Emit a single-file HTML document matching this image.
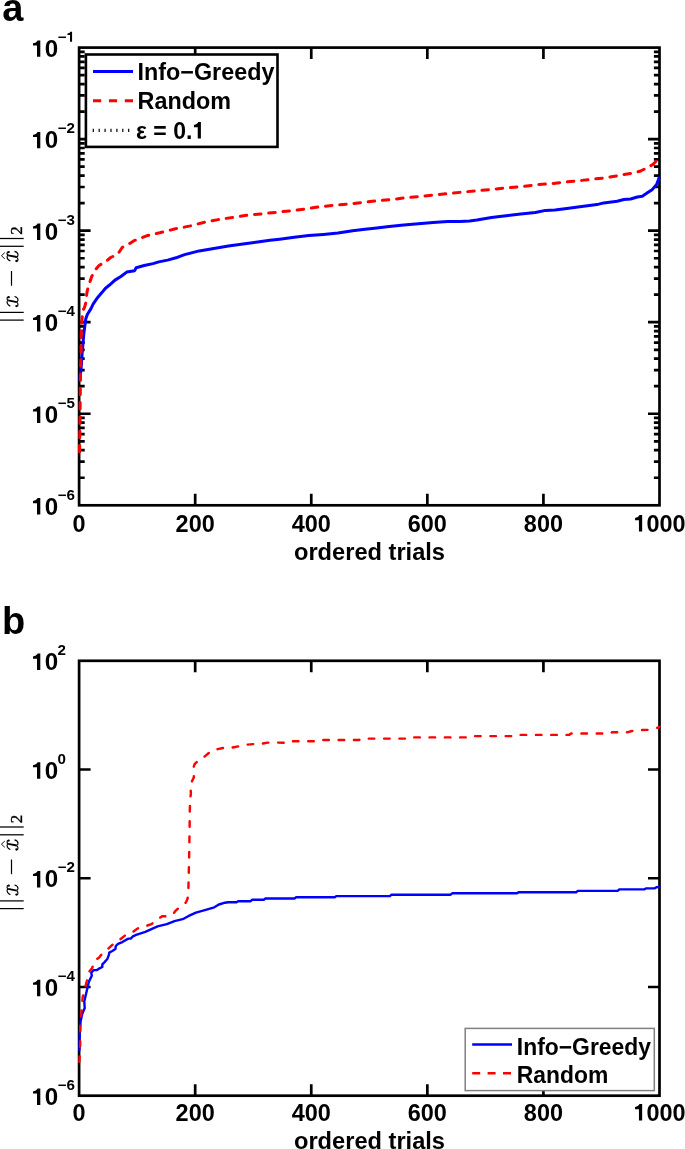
<!DOCTYPE html><html><head><meta charset="utf-8"><style>html,body{margin:0;padding:0;background:#fff;width:685px;height:1149px;overflow:hidden}svg{display:block;will-change:transform}.t{font-family:"Liberation Sans", sans-serif;font-weight:bold;font-size:23px}.s{font-family:"Liberation Sans", sans-serif;font-weight:bold;font-size:14px}.L{font-family:"Liberation Sans", sans-serif;font-weight:bold;font-size:38px}.m{font-family:"Liberation Serif",serif;font-size:24px;fill:#222}</style></head><body>
<svg width="685" height="1149" viewBox="0 0 685 1149">
<rect width="685" height="1149" fill="#fff"/>
<text x="2.3" y="20.6" class="L">a</text>
<text x="2.0" y="633.6" class="L">b</text>
<g transform="matrix(0,-1,1,0,18,321.0)" stroke="#000" fill="#000">
<path d="M0.9 -18.5V5.7" stroke-width="1.25"/>
<path d="M8.6 -18.5V5.7" stroke-width="1.25"/>
<path d="M74.7 -18.5V5.7" stroke-width="1.25"/>
<path d="M82.5 -18.5V5.7" stroke-width="1.25"/>
<g transform="translate(13.6,0) scale(1,-1)"><path d="M1.2 7.6C2.2 9.8 4 11 5.6 10.9C6.6 10.8 7.1 10.3 7.1 9.6M10.6 9.6C10.4 10.6 9.5 11 8.7 10.95C7.8 10.9 7.2 10.3 7.0 9.6M0.9 1.4C1.1 0.4 2 0 2.8 0.05C3.8 0.1 4.9 0.7 5.3 1.4M5.3 1.4C5.6 0.4 6.5 -0.05 7.6 0C9.3 0.1 10.5 2 10.9 3.5" stroke-width="1.15" fill="none"/><path d="M7.0 9.8L5.3 1.2" stroke-width="1.8" fill="none"/><circle cx="10.2" cy="9.3" r="1.15" stroke="none"/><circle cx="1.3" cy="1.6" r="1.15" stroke="none"/></g>
<path d="M35.3 -6.5H50" stroke-width="1.2"/>
<g transform="translate(58.7,0) scale(1,-1)"><path d="M1.2 7.6C2.2 9.8 4 11 5.6 10.9C6.6 10.8 7.1 10.3 7.1 9.6M10.6 9.6C10.4 10.6 9.5 11 8.7 10.95C7.8 10.9 7.2 10.3 7.0 9.6M0.9 1.4C1.1 0.4 2 0 2.8 0.05C3.8 0.1 4.9 0.7 5.3 1.4M5.3 1.4C5.6 0.4 6.5 -0.05 7.6 0C9.3 0.1 10.5 2 10.9 3.5" stroke-width="1.15" fill="none"/><path d="M7.0 9.8L5.3 1.2" stroke-width="1.8" fill="none"/><circle cx="10.2" cy="9.3" r="1.15" stroke="none"/><circle cx="1.3" cy="1.6" r="1.15" stroke="none"/><path d="M3.5 13.2L6.6 16.6L9.7 13.2" stroke-width="0.9" fill="none" stroke-linejoin="miter"/></g>
<text x="86.3" y="3.5" stroke="#000" stroke-width="0.35" style="font-family:'Liberation Serif',serif;font-size:17px">2</text>
</g>
<g transform="matrix(0,-1,1,0,18,909.5)" stroke="#000" fill="#000">
<path d="M0.9 -18.5V5.7" stroke-width="1.25"/>
<path d="M8.6 -18.5V5.7" stroke-width="1.25"/>
<path d="M74.7 -18.5V5.7" stroke-width="1.25"/>
<path d="M82.5 -18.5V5.7" stroke-width="1.25"/>
<g transform="translate(13.6,0) scale(1,-1)"><path d="M1.2 7.6C2.2 9.8 4 11 5.6 10.9C6.6 10.8 7.1 10.3 7.1 9.6M10.6 9.6C10.4 10.6 9.5 11 8.7 10.95C7.8 10.9 7.2 10.3 7.0 9.6M0.9 1.4C1.1 0.4 2 0 2.8 0.05C3.8 0.1 4.9 0.7 5.3 1.4M5.3 1.4C5.6 0.4 6.5 -0.05 7.6 0C9.3 0.1 10.5 2 10.9 3.5" stroke-width="1.15" fill="none"/><path d="M7.0 9.8L5.3 1.2" stroke-width="1.8" fill="none"/><circle cx="10.2" cy="9.3" r="1.15" stroke="none"/><circle cx="1.3" cy="1.6" r="1.15" stroke="none"/></g>
<path d="M35.3 -6.5H50" stroke-width="1.2"/>
<g transform="translate(58.7,0) scale(1,-1)"><path d="M1.2 7.6C2.2 9.8 4 11 5.6 10.9C6.6 10.8 7.1 10.3 7.1 9.6M10.6 9.6C10.4 10.6 9.5 11 8.7 10.95C7.8 10.9 7.2 10.3 7.0 9.6M0.9 1.4C1.1 0.4 2 0 2.8 0.05C3.8 0.1 4.9 0.7 5.3 1.4M5.3 1.4C5.6 0.4 6.5 -0.05 7.6 0C9.3 0.1 10.5 2 10.9 3.5" stroke-width="1.15" fill="none"/><path d="M7.0 9.8L5.3 1.2" stroke-width="1.8" fill="none"/><circle cx="10.2" cy="9.3" r="1.15" stroke="none"/><circle cx="1.3" cy="1.6" r="1.15" stroke="none"/><path d="M3.5 13.2L6.6 16.6L9.7 13.2" stroke-width="0.9" fill="none" stroke-linejoin="miter"/></g>
<text x="86.3" y="3.5" stroke="#000" stroke-width="0.35" style="font-family:'Liberation Serif',serif;font-size:17px">2</text>
</g>
<path d="M195.18 505.30V493.80M195.18 47.60V59.10M311.26 505.30V493.80M311.26 47.60V59.10M427.34 505.30V493.80M427.34 47.60V59.10M543.42 505.30V493.80M543.42 47.60V59.10M79.10 413.76H90.60M659.50 413.76H648.00M79.10 322.22H90.60M659.50 322.22H648.00M79.10 230.68H90.60M659.50 230.68H648.00M79.10 139.14H90.60M659.50 139.14H648.00M79.10 477.74H84.70M659.50 477.74H653.90M79.10 461.62H84.70M659.50 461.62H653.90M79.10 450.19H84.70M659.50 450.19H653.90M79.10 441.32H84.70M659.50 441.32H653.90M79.10 434.07H84.70M659.50 434.07H653.90M79.10 427.94H84.70M659.50 427.94H653.90M79.10 422.63H84.70M659.50 422.63H653.90M79.10 417.95H84.70M659.50 417.95H653.90M79.10 386.20H84.70M659.50 386.20H653.90M79.10 370.08H84.70M659.50 370.08H653.90M79.10 358.65H84.70M659.50 358.65H653.90M79.10 349.78H84.70M659.50 349.78H653.90M79.10 342.53H84.70M659.50 342.53H653.90M79.10 336.40H84.70M659.50 336.40H653.90M79.10 331.09H84.70M659.50 331.09H653.90M79.10 326.41H84.70M659.50 326.41H653.90M79.10 294.66H84.70M659.50 294.66H653.90M79.10 278.54H84.70M659.50 278.54H653.90M79.10 267.11H84.70M659.50 267.11H653.90M79.10 258.24H84.70M659.50 258.24H653.90M79.10 250.99H84.70M659.50 250.99H653.90M79.10 244.86H84.70M659.50 244.86H653.90M79.10 239.55H84.70M659.50 239.55H653.90M79.10 234.87H84.70M659.50 234.87H653.90M79.10 203.12H84.70M659.50 203.12H653.90M79.10 187.00H84.70M659.50 187.00H653.90M79.10 175.57H84.70M659.50 175.57H653.90M79.10 166.70H84.70M659.50 166.70H653.90M79.10 159.45H84.70M659.50 159.45H653.90M79.10 153.32H84.70M659.50 153.32H653.90M79.10 148.01H84.70M659.50 148.01H653.90M79.10 143.33H84.70M659.50 143.33H653.90M79.10 111.58H84.70M659.50 111.58H653.90M79.10 95.46H84.70M659.50 95.46H653.90M79.10 84.03H84.70M659.50 84.03H653.90M79.10 75.16H84.70M659.50 75.16H653.90M79.10 67.91H84.70M659.50 67.91H653.90M79.10 61.78H84.70M659.50 61.78H653.90M79.10 56.47H84.70M659.50 56.47H653.90M79.10 51.79H84.70M659.50 51.79H653.90" stroke="#000" stroke-width="2.7" fill="none"/>
<rect x="79.1" y="47.6" width="580.40" height="457.70" stroke="#000" stroke-width="2.7" fill="none"/>
<path d="M79.9 379.3 L81.1 368.3 L81.9 356.6 L83.0 343.2 L83.8 333.9 L85.0 324.5 L85.8 318.8 L87.3 314.5 L91.0 308.6 L93.1 304.2 L97.5 297.7 L101.9 292.6 L105.5 288.2 L109.2 285.3 L115.0 280.1 L120.9 276.5 L126.7 272.1 L134.7 270.7 L136.2 267.7 L144.2 265.5 L153.0 263.6 L158.8 261.9 L167.6 260.1 L176.0 257.8 L184.6 254.6 L199.2 250.9 L213.8 248.4 L228.4 246.0 L243.0 244.0 L257.6 242.0 L270.0 240.3 L279.6 239.2 L294.2 237.3 L308.8 235.6 L323.4 234.4 L338.0 232.9 L352.6 230.7 L365.0 229.3 L374.6 228.3 L389.2 226.6 L403.8 225.1 L418.4 223.7 L433.0 222.5 L447.6 221.5 L460.0 221.4 L469.6 221.0 L476.9 220.1 L491.5 217.6 L506.1 215.7 L520.7 214.0 L535.3 212.5 L545.5 210.4 L555.0 209.9 L566.8 208.4 L583.6 206.2 L597.0 204.6 L603.7 202.9 L617.1 201.2 L623.9 199.5 L630.6 199.0 L637.3 197.0 L642.3 196.2 L647.4 192.8 L652.4 189.4 L656.6 184.4 L659.1 177.7" stroke="#0000ff" stroke-width="3" fill="none" stroke-linejoin="round" stroke-linecap="round"/>
<path d="M79.6 452.0 L80.0 420.0 L80.3 390.0 L80.7 366.7 L81.1 352.0 L81.1 340.0 L81.5 325.2 L82.3 316.0 L83.0 310.4 L84.6 307.2 L85.8 302.8 L86.6 295.0 L87.2 291.0 L88.8 285.3 L91.7 276.5 L95.3 269.9 L99.0 265.5 L105.5 261.9 L110.7 257.5 L118.0 253.9 L122.3 247.3 L128.2 244.4 L134.0 240.7 L146.6 235.8 L159.8 232.8 L175.5 228.8 L190.4 225.9 L203.6 222.5 L218.2 219.6 L233.2 217.3 L248.5 215.0 L261.3 213.9 L276.0 212.3 L292.0 210.7 L307.3 208.7 L319.0 206.8 L333.6 205.3 L349.7 203.9 L362.8 202.4 L376.8 200.8 L392.1 199.5 L406.7 197.6 L422.0 196.3 L433.7 195.0 L448.3 193.5 L463.8 192.0 L479.8 190.5 L491.5 189.4 L506.1 187.9 L522.2 186.5 L537.5 184.7 L551.7 183.6 L563.4 182.2 L579.4 180.6 L594.5 179.0 L606.2 177.7 L620.5 175.2 L634.8 172.7 L640.6 171.0 L647.4 167.6 L652.4 164.8 L657.4 160.1 L660.0 155.9" stroke="#ff0000" stroke-width="3" fill="none" stroke-linejoin="round" stroke-linecap="round" stroke-dasharray="6.5 7.8"/>
<text transform="translate(72.58,531.50) scale(1.02,1)" class="t" style="font-size:23px">0</text>
<text transform="translate(175.61,531.50) scale(1.02,1)" class="t" style="font-size:23px">200</text>
<text transform="translate(291.69,531.50) scale(1.02,1)" class="t" style="font-size:23px">400</text>
<text transform="translate(407.77,531.50) scale(1.02,1)" class="t" style="font-size:23px">600</text>
<text transform="translate(523.85,531.50) scale(1.02,1)" class="t" style="font-size:23px">800</text>
<path transform="translate(633.41,531.50) scale(23.460,23)" d="M0.236 0H0.373V-0.712H0.262C0.232 -0.648 0.157 -0.592 0.07 -0.585V-0.494H0.236Z" fill="#000"/>
<text transform="translate(646.45,531.50) scale(1.02,1)" class="t" style="font-size:23px">000</text>
<text transform="translate(369.50,560.20) scale(1.028,1)" text-anchor="middle" class="t">ordered trials</text>
<path transform="translate(31.30,514.50) scale(24.150,23)" d="M0.236 0H0.373V-0.712H0.262C0.232 -0.648 0.157 -0.592 0.07 -0.585V-0.494H0.236Z" fill="#000"/>
<text transform="translate(44.73,514.50) scale(1.05,1)" class="t" style="font-size:23px">0</text>
<text transform="translate(57.60,499.50) scale(1.08,1)" class="s" style="font-size:14px">−6</text>
<path transform="translate(31.30,422.96) scale(24.150,23)" d="M0.236 0H0.373V-0.712H0.262C0.232 -0.648 0.157 -0.592 0.07 -0.585V-0.494H0.236Z" fill="#000"/>
<text transform="translate(44.73,422.96) scale(1.05,1)" class="t" style="font-size:23px">0</text>
<text transform="translate(57.60,407.96) scale(1.08,1)" class="s" style="font-size:14px">−5</text>
<path transform="translate(31.30,331.42) scale(24.150,23)" d="M0.236 0H0.373V-0.712H0.262C0.232 -0.648 0.157 -0.592 0.07 -0.585V-0.494H0.236Z" fill="#000"/>
<text transform="translate(44.73,331.42) scale(1.05,1)" class="t" style="font-size:23px">0</text>
<text transform="translate(57.60,316.42) scale(1.08,1)" class="s" style="font-size:14px">−4</text>
<path transform="translate(31.30,239.88) scale(24.150,23)" d="M0.236 0H0.373V-0.712H0.262C0.232 -0.648 0.157 -0.592 0.07 -0.585V-0.494H0.236Z" fill="#000"/>
<text transform="translate(44.73,239.88) scale(1.05,1)" class="t" style="font-size:23px">0</text>
<text transform="translate(57.60,224.88) scale(1.08,1)" class="s" style="font-size:14px">−3</text>
<path transform="translate(31.30,148.34) scale(24.150,23)" d="M0.236 0H0.373V-0.712H0.262C0.232 -0.648 0.157 -0.592 0.07 -0.585V-0.494H0.236Z" fill="#000"/>
<text transform="translate(44.73,148.34) scale(1.05,1)" class="t" style="font-size:23px">0</text>
<text transform="translate(57.60,133.34) scale(1.08,1)" class="s" style="font-size:14px">−2</text>
<path transform="translate(31.30,56.80) scale(24.150,23)" d="M0.236 0H0.373V-0.712H0.262C0.232 -0.648 0.157 -0.592 0.07 -0.585V-0.494H0.236Z" fill="#000"/>
<text transform="translate(44.73,56.80) scale(1.05,1)" class="t" style="font-size:23px">0</text>
<text transform="translate(57.60,41.80) scale(1.08,1)" class="s" style="font-size:14px">−</text>
<path transform="translate(66.43,41.80) scale(15.120,14)" d="M0.236 0H0.373V-0.712H0.262C0.232 -0.648 0.157 -0.592 0.07 -0.585V-0.494H0.236Z" fill="#000"/>
<rect x="85.9" y="54.5" width="191.6" height="92.4" fill="#fff" stroke="#000" stroke-width="2.6"/>
<path d="M93 71.4H133" stroke="#0000ff" stroke-width="3"/>
<path d="M93 100.7H133" stroke="#ff0000" stroke-width="3" stroke-dasharray="8.2 7.7"/>
<path d="M92.7 130.4H131" stroke="#000" stroke-width="3.4" stroke-dasharray="1.2 4.7"/>
<text transform="translate(137.6,79.5) scale(1.015,1)" class="t">Info−Greedy</text>
<text transform="translate(137.6,109) scale(1.015,1)" class="t">Random</text>
<text transform="translate(136.00,138.50) scale(1.0,1)" class="t" style="font-size:23px">ε = 0.</text>
<path transform="translate(192.31,138.50) scale(23.000,23)" d="M0.236 0H0.373V-0.712H0.262C0.232 -0.648 0.157 -0.592 0.07 -0.585V-0.494H0.236Z" fill="#000"/>
<path d="M195.18 1095.70V1084.20M195.18 660.80V672.30M311.26 1095.70V1084.20M311.26 660.80V672.30M427.34 1095.70V1084.20M427.34 660.80V672.30M543.42 1095.70V1084.20M543.42 660.80V672.30M79.10 986.98H90.60M659.50 986.98H648.00M79.10 878.25H90.60M659.50 878.25H648.00M79.10 769.52H90.60M659.50 769.52H648.00" stroke="#000" stroke-width="2.7" fill="none"/>
<rect x="79.1" y="660.8" width="580.40" height="434.90" stroke="#000" stroke-width="2.7" fill="none"/>
<path d="M79.4 1050.0 L79.8 1033.0 L80.6 1021.3 L82.3 1013.8 L84.7 1008.0 L84.3 1001.4 L85.6 995.7 L87.2 989.0 L88.9 981.6 L91.8 975.8 L91.3 972.7 L93.5 970.1 L97.0 970.1 L99.6 968.3 L102.3 967.0 L102.3 964.4 L104.9 961.8 L107.5 958.7 L108.8 955.2 L109.3 952.6 L111.9 951.3 L115.4 949.1 L115.8 946.0 L118.0 943.8 L122.4 942.1 L125.9 939.9 L128.5 938.6 L130.7 938.6 L132.9 936.4 L136.1 934.9 L145.3 931.8 L157.6 926.4 L166.8 924.1 L174.5 921.1 L183.6 918.8 L188.2 916.2 L195.9 912.6 L206.6 909.6 L214.3 907.3 L218.9 904.5 L225.0 902.7 L228.1 902.2 L236.5 902.2 L238.1 901.2 L250.7 901.2 L252.3 899.7 L263.8 899.7 L265.4 898.5 L294.5 898.5 L296.1 897.3 L334.7 897.3 L336.3 896.1 L389.9 896.1 L391.5 894.7 L450.6 894.7 L452.2 893.3 L517.0 893.3 L518.6 892.2 L576.2 892.2 L577.8 890.9 L617.7 890.9 L619.3 889.4 L644.2 889.4 L645.8 888.4 L654.5 888.4 L656.5 887.3 L659.4 886.9" stroke="#0000ff" stroke-width="2.4" fill="none" stroke-linejoin="round" stroke-linecap="round"/>
<path d="M79.4 1062.0 L80.2 1043.0 L80.2 1028.0 L81.4 1012.0 L82.7 997.0 L85.0 988.0 L86.8 981.0 L88.7 972.3 L92.2 967.9 L94.8 960.5 L99.2 957.4 L104.0 951.3 L108.8 948.2 L115.0 942.5 L120.7 939.0 L125.0 935.5 L130.7 933.6 L137.7 928.4 L142.3 927.2 L151.5 924.1 L156.1 920.3 L162.2 916.2 L166.8 916.2 L172.9 914.2 L176.0 910.3 L182.3 905.0 L186.0 902.4 L187.6 898.5 L188.3 892.0 L188.7 876.3 L189.2 853.5 L189.6 827.6 L189.8 810.1 L190.2 799.2 L190.9 793.4 L190.4 784.6 L193.9 777.3 L193.1 768.6 L194.6 764.2 L200.4 758.4 L204.1 756.9 L210.7 751.4 L215.8 749.6 L223.8 747.8 L231.1 747.8 L238.4 746.4 L244.2 744.9 L253.0 744.1 L259.6 744.1 L267.6 742.6 L274.9 742.5 L287.0 742.8 L289.0 741.3 L317.0 741.3 L321.0 740.0 L359.0 740.0 L361.0 738.6 L406.0 738.6 L407.5 737.4 L467.0 737.4 L469.0 736.1 L512.0 736.1 L514.0 734.9 L569.0 734.9 L571.0 733.5 L610.0 733.5 L612.0 732.3 L627.0 732.3 L632.0 731.0 L640.0 730.0 L650.0 729.8 L655.0 728.6 L659.4 727.0" stroke="#ff0000" stroke-width="2.4" fill="none" stroke-linejoin="round" stroke-linecap="round" stroke-dasharray="5.6 9.7"/>
<text transform="translate(72.58,1120.50) scale(1.02,1)" class="t" style="font-size:23px">0</text>
<text transform="translate(175.61,1120.50) scale(1.02,1)" class="t" style="font-size:23px">200</text>
<text transform="translate(291.69,1120.50) scale(1.02,1)" class="t" style="font-size:23px">400</text>
<text transform="translate(407.77,1120.50) scale(1.02,1)" class="t" style="font-size:23px">600</text>
<text transform="translate(523.85,1120.50) scale(1.02,1)" class="t" style="font-size:23px">800</text>
<path transform="translate(633.41,1120.50) scale(23.460,23)" d="M0.236 0H0.373V-0.712H0.262C0.232 -0.648 0.157 -0.592 0.07 -0.585V-0.494H0.236Z" fill="#000"/>
<text transform="translate(646.45,1120.50) scale(1.02,1)" class="t" style="font-size:23px">000</text>
<text transform="translate(369.50,1149.20) scale(1.028,1)" text-anchor="middle" class="t">ordered trials</text>
<path transform="translate(31.30,1104.90) scale(24.150,23)" d="M0.236 0H0.373V-0.712H0.262C0.232 -0.648 0.157 -0.592 0.07 -0.585V-0.494H0.236Z" fill="#000"/>
<text transform="translate(44.73,1104.90) scale(1.05,1)" class="t" style="font-size:23px">0</text>
<text transform="translate(57.60,1089.90) scale(1.08,1)" class="s" style="font-size:14px">−6</text>
<path transform="translate(31.30,996.18) scale(24.150,23)" d="M0.236 0H0.373V-0.712H0.262C0.232 -0.648 0.157 -0.592 0.07 -0.585V-0.494H0.236Z" fill="#000"/>
<text transform="translate(44.73,996.18) scale(1.05,1)" class="t" style="font-size:23px">0</text>
<text transform="translate(57.60,981.18) scale(1.08,1)" class="s" style="font-size:14px">−4</text>
<path transform="translate(31.30,887.45) scale(24.150,23)" d="M0.236 0H0.373V-0.712H0.262C0.232 -0.648 0.157 -0.592 0.07 -0.585V-0.494H0.236Z" fill="#000"/>
<text transform="translate(44.73,887.45) scale(1.05,1)" class="t" style="font-size:23px">0</text>
<text transform="translate(57.60,872.45) scale(1.08,1)" class="s" style="font-size:14px">−2</text>
<path transform="translate(31.30,778.73) scale(24.150,23)" d="M0.236 0H0.373V-0.712H0.262C0.232 -0.648 0.157 -0.592 0.07 -0.585V-0.494H0.236Z" fill="#000"/>
<text transform="translate(44.73,778.73) scale(1.05,1)" class="t" style="font-size:23px">0</text>
<text transform="translate(57.60,763.73) scale(1.08,1)" class="s" style="font-size:14px">0</text>
<path transform="translate(31.30,670.00) scale(24.150,23)" d="M0.236 0H0.373V-0.712H0.262C0.232 -0.648 0.157 -0.592 0.07 -0.585V-0.494H0.236Z" fill="#000"/>
<text transform="translate(44.73,670.00) scale(1.05,1)" class="t" style="font-size:23px">0</text>
<text transform="translate(57.60,655.00) scale(1.08,1)" class="s" style="font-size:14px">2</text>
<rect x="465.2" y="1028.4" width="189.1" height="62.2" fill="#fff" stroke="#808080" stroke-width="1.5"/>
<path d="M472.2 1044.5H512" stroke="#0000ff" stroke-width="2.4"/>
<path d="M472.2 1073.3H512" stroke="#ff0000" stroke-width="2.4" stroke-dasharray="8 7.4"/>
<text transform="translate(516.8,1054.8) scale(0.995,1)" class="t">Info−Greedy</text>
<text transform="translate(516.8,1083.4) scale(0.995,1)" class="t">Random</text>
</svg></body></html>
